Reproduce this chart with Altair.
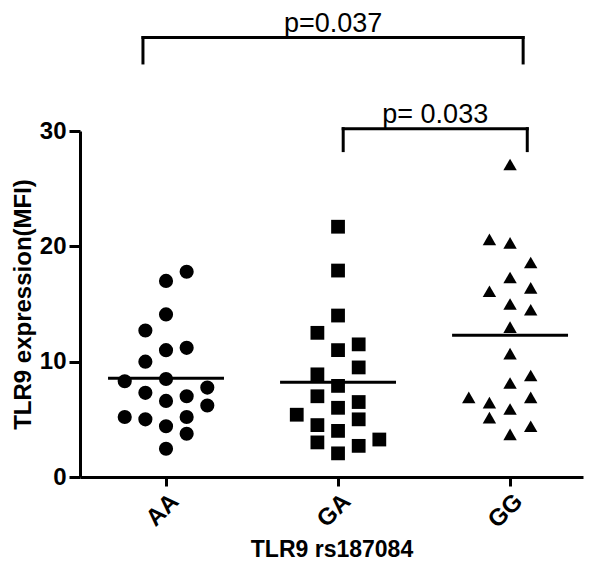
import altair as alt
import pandas as pd

groups = ["AA", "GA", "GG"]
shapes = ["circle", "square", "triangle-up"]
marker_sizes = [200, 180, 230]

aa_values = [17.8, 17.0, 14.1, 12.7, 11.0, 11.2, 10.0, 8.3, 8.5, 7.3,
             6.6, 7.0, 7.75, 6.2, 5.2, 5.0, 4.4, 5.2, 3.75, 2.45]
aa_slots = [1, 0, 0, -1, 0, 1, -1, -2, 0, -1, 0, 1, 2, 2, -2, -1, 0, 1, 1, 0]

ga_values = [21.7, 17.9, 14.0, 12.5, 11.0, 11.5, 9.5, 8.9, 7.9, 7.0,
             6.5, 6.0, 5.4, 4.5, 5.0, 4.0, 3.0, 3.25, 2.7, 2.05]
ga_slots = [0, 0, 0, -1, 0, 1, 1, -1, 0, -1, 1, 0, -2, -1, 1, 0, -1, 2, 1, 0]

gg_values = [27.1, 20.6, 20.3, 18.6, 17.3, 16.1, 16.4, 15.0, 14.5, 13.0,
             10.7, 8.8, 8.15, 6.9, 6.45, 6.9, 5.9, 5.15, 4.4, 3.7]
gg_slots = [0, -1, 0, 1, 0, -1, 1, 0, 1, 0, 0, 1, 0, -2, -1, 1, 0, -1, 1, 0]

# significance brackets (x in group-index units, y in MFI units)
bracket_left = [-0.134, 1.03]
bracket_right = [2.076, 2.10]
bracket_top = [38.1, 30.2]
bracket_bottom = [35.9, 28.3]
p_labels = ["p=0.037", "p= 0.033"]

SLOT = 0.12
HALF = 0.337
FONT = "Liberation Sans"

rows = []
for gi, (g, vals, slots) in enumerate(zip(groups, [aa_values, ga_values, gg_values],
                                          [aa_slots, ga_slots, gg_slots])):
    for v, s in zip(vals, slots):
        rows.append({"group": g, "gi": gi, "slot": s, "value": v})
df = pd.DataFrame(rows)

seg_rows = []
txt_rows = []
for l, r, t, b, p in zip(bracket_left, bracket_right, bracket_top, bracket_bottom, p_labels):
    seg_rows.append({"x": l, "x2": r, "y": t, "y2": t})
    seg_rows.append({"x": l, "x2": l, "y": t, "y2": b})
    seg_rows.append({"x": r, "x2": r, "y": t, "y2": b})
    txt_rows.append({"x": (l + r) / 2, "y": t, "label": p})
seg_df = pd.DataFrame(seg_rows)
txt_df = pd.DataFrame(txt_rows)

xscale = alt.Scale(domain=[-0.5, 2.424], nice=False, zero=False)
yscale = alt.Scale(domain=[0, 30], nice=False, zero=True)

label_expr = "[" + ",".join(f"'{g}'" for g in groups) + "][datum.value]"
XTITLE = "TLR9 rs187084"
YTITLE = "TLR9 expression(MFI)"
xaxis = alt.Axis(values=[0, 1, 2], labelExpr=label_expr, labelAngle=-45,
                 titlePadding=6, labelPadding=3, tickSize=9)
yaxis = alt.Axis(values=[0, 10, 20, 30], titlePadding=4, labelPadding=3, tickSize=11)

points = alt.Chart(df).transform_calculate(
    xpos=f"datum.gi + datum.slot * {SLOT}"
).mark_point(filled=True, opacity=1, color="black").encode(
    x=alt.X("xpos:Q", scale=xscale, title=XTITLE, axis=xaxis),
    y=alt.Y("value:Q", scale=yscale, title=YTITLE, axis=yaxis),
    shape=alt.Shape("group:N", scale=alt.Scale(domain=groups, range=shapes), legend=None),
    size=alt.Size("group:N", scale=alt.Scale(domain=groups, range=marker_sizes), legend=None),
)

means = alt.Chart(df).transform_aggregate(
    mean="mean(value)", groupby=["group", "gi"]
).transform_calculate(
    x1=f"datum.gi - {HALF}", x2=f"datum.gi + {HALF}"
).mark_rule(color="black", strokeWidth=3).encode(
    x=alt.X("x1:Q", scale=xscale, title=XTITLE, axis=xaxis),
    x2="x2:Q",
    y=alt.Y("mean:Q", scale=yscale, title=YTITLE, axis=yaxis),
)

brackets = alt.Chart(seg_df).mark_rule(color="black", strokeWidth=3, strokeCap="square").encode(
    x=alt.X("x:Q", scale=xscale, title=XTITLE, axis=xaxis),
    x2="x2:Q",
    y=alt.Y("y:Q", scale=yscale, title=YTITLE, axis=yaxis),
    y2="y2:Q",
)

ptext = alt.Chart(txt_df).mark_text(
    font=FONT, fontSize=27, color="black", baseline="alphabetic", align="center", dy=-6
).encode(
    x=alt.X("x:Q", scale=xscale, title=XTITLE, axis=xaxis),
    y=alt.Y("y:Q", scale=yscale, title=YTITLE, axis=yaxis),
    text="label:N",
)

chart = alt.layer(points, means, brackets, ptext).properties(
    width=503, height=346,
    autosize=alt.AutoSizeParams(type="none"),
    padding={"left": 72, "top": 123, "right": 9, "bottom": 85},
).configure_view(stroke=None).configure_axis(
    grid=False,
    domainColor="black", domainWidth=3,
    tickColor="black", tickWidth=3,
    labelColor="black", labelFont=FONT, labelFontWeight="bold", labelFontSize=24,
    titleColor="black", titleFont=FONT, titleFontWeight="bold", titleFontSize=23,
).configure_axisY(titleFontSize=24)

chart.save("out.html", embed_options={"renderer": "svg", "actions": False})
